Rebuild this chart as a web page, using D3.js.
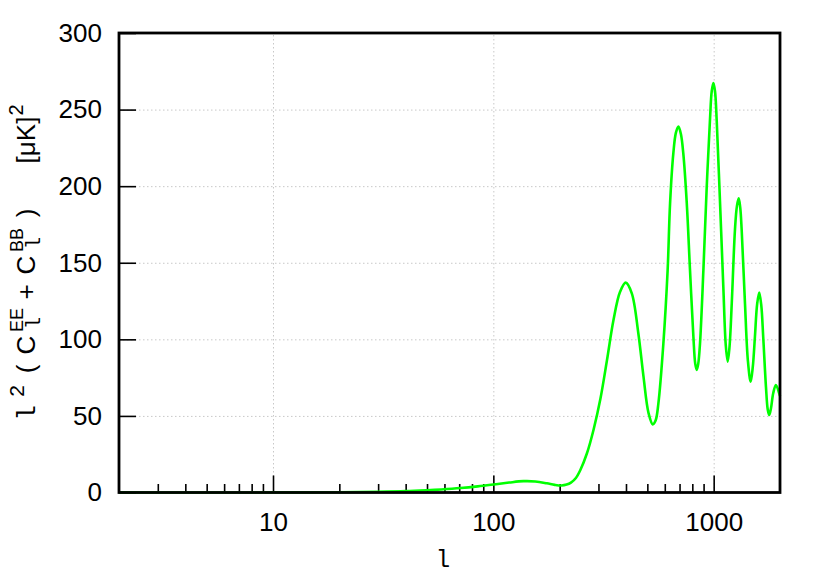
<!DOCTYPE html>
<html>
<head>
<meta charset="utf-8">
<script src="https://cdn.jsdelivr.net/npm/d3@7"></script>
<style>
  body { margin: 0; background: #fff; }
  .grid line { stroke: #c8c8c8; stroke-width: 1; stroke-dasharray: 1.5, 2.5; }
  .grid path { display: none; }
  .tick text { font-family: "Liberation Sans", Arial, sans-serif; font-size: 26px; fill: #000; }
</style>
</head>
<body>
<script>
'use-strict';

// multipole values l
let ell = [2, 4, 7, 10, 15, 20, 30, 40, 50, 58, 71, 85, 100, 118, 137, 155, 175, 190, 204, 215, 225, 237, 248,
  266, 285, 306, 328, 351, 376, 399, 425, 455, 480, 506, 529, 545, 561, 591, 618, 634, 656, 674, 692, 710,
  728, 755, 781, 809, 825, 838, 851, 867, 898, 930, 962, 980, 997, 1014, 1032, 1069, 1106, 1135, 1158, 1180,
  1208, 1249, 1275, 1299, 1320, 1340, 1387, 1430, 1472, 1505, 1539, 1575, 1610, 1645, 1678, 1727, 1760, 1787,
  1820, 1863, 1916, 1983, 2000];

// l^2 (C_l^EE + C_l^BB) in [uK]^2
let power = [0.05, 0.03, 0.03, 0.05, 0.1, 0.2, 0.5, 0.9, 1.5, 2.0, 2.9, 4.0, 5.2, 6.5, 7.4, 7.2, 6.0, 5.0, 4.6, 5.2, 6.5, 9.5, 14.5,
  25.6, 41, 61, 86.5, 112.6, 131, 137, 130, 104, 76, 52, 44.5, 47, 58, 97, 145, 188.8, 221.4, 235, 239, 234,
  221.4, 188.8, 145, 101.7, 84, 80, 84, 97.4, 145, 199.6, 243.2, 262, 267.3, 262, 243.2, 188.8, 134.4, 96, 85.4, 95,
  123.5, 171.4, 187, 192, 186, 171.4, 123.5, 86, 72.3, 82, 101.7, 123, 130.5, 122, 101.7, 69, 54, 50.6,
  55, 64.8, 70.2, 64.8, 63];

// tick values
let xMajorTicks = [10, 100, 1000];
let xMinorTicks = [3, 4, 5, 6, 7, 8, 9, 20, 30, 40, 50, 60, 70, 80, 90, 200, 300, 400, 500, 600, 700, 800, 900];
let yTicks = [0, 50, 100, 150, 200, 250, 300];

// margin of the chart
let margin = { top: 33, left: 119, bottom: 88.5, right: 50 };

// axes length
let width = 830 - margin.left - margin.right,
  height = 581 - margin.top - margin.bottom;

let svgContainer = d3.select("body")
  .append("svg")
  .attr("width", 830)
  .attr("height", 581);

let plot = svgContainer.append("g")
  .attr("transform", "translate(" + margin.left + "," + margin.top + ")");

drawPlot();

function drawPlot() {
  let scaleValues = drawAxes();
  drawLine(scaleValues);
  drawFrame();
  drawLabels();
}

// draws grid, ticks and tick labels
function drawAxes() {
  let xScale = d3.scaleLog()
    .domain([2, 2000])
    .range([0, width]);

  let yScale = d3.scaleLinear()
    .domain([0, 300])
    .range([height, 0]);

  // vertical gridlines
  plot.append("g")
    .attr("class", "grid")
    .attr("transform", "translate(0," + height + ")")
    .call(d3.axisBottom(xScale).tickValues(xMajorTicks).tickSize(-height).tickFormat(""));

  // horizontal gridlines
  plot.append("g")
    .attr("class", "grid")
    .call(d3.axisLeft(yScale).tickValues(yTicks.slice(1, -1)).tickSize(-width).tickFormat(""));

  // x axis, major ticks pointing inwards
  let xAxis = plot.append("g")
    .attr("transform", "translate(0," + height + ")")
    .call(d3.axisBottom(xScale)
      .tickValues(xMajorTicks)
      .tickSize(-17)
      .tickPadding(20)
      .tickFormat(d3.format("d")));

  // x axis minor ticks
  let xMinor = plot.append("g")
    .attr("transform", "translate(0," + height + ")")
    .call(d3.axisBottom(xScale)
      .tickValues(xMinorTicks)
      .tickSize(-8.5)
      .tickFormat(""));

  // y axis
  let yAxis = plot.append("g")
    .call(d3.axisLeft(yScale)
      .tickValues(yTicks)
      .tickSize(-17)
      .tickPadding(17));

  [xAxis, xMinor, yAxis].forEach(g => {
    g.select(".domain").remove();
    g.selectAll(".tick line").attr("stroke", "#000").attr("stroke-width", 1.6);
  });

  return { xScale: xScale, yScale: yScale };
}

// draws the spectrum curve
function drawLine(scaleValues) {
  let x = scaleValues.xScale;
  let y = scaleValues.yScale;

  let line = d3.line()
    .x((d, i) => x(ell[i]))
    .y((d) => y(d))
    .curve(d3.curveCatmullRom.alpha(0.5));

  plot.append("path")
    .datum(power)
    .attr("fill", "none")
    .attr("stroke", "#00ff00")
    .attr("stroke-width", 2.6)
    .attr("stroke-linejoin", "round")
    .attr("d", line);
}

// black border round the plot
function drawFrame() {
  plot.append("rect")
    .attr("x", 0)
    .attr("y", 0)
    .attr("width", width)
    .attr("height", height)
    .attr("fill", "none")
    .attr("stroke", "#000")
    .attr("stroke-width", 2.8);
}

// x and y axis labels
function drawLabels() {
  svgContainer.append("text")
    .attr("x", 443)
    .attr("y", 567)
    .attr("text-anchor", "middle")
    .style("font-family", "'Liberation Mono', monospace")
    .style("font-size", "24px")
    .text("l");

  // y label is built piece by piece, positions are along the rotated axis
  let yLabel = svgContainer.append("text")
    .attr("transform", "translate(35,423) rotate(-90)")
    .attr("text-anchor", "middle")
    .style("font-family", "'Liberation Sans', Arial, sans-serif")
    .style("font-size", "26px");

  let pieces = [
    { t: "l", x: 10, dy: 0, size: 26, mono: true },
    { t: "2", x: 32, dy: -11, size: 21 },
    { t: "(", x: 54, dy: 0, size: 26 },
    { t: "C", x: 78, dy: 0, size: 26 },
    { t: "l", x: 100, dy: 5, size: 20, mono: true },
    { t: "EE", x: 103, dy: -12, size: 18 },
    { t: "+", x: 131, dy: 0, size: 26 },
    { t: "C", x: 158, dy: 0, size: 26 },
    { t: "l", x: 180, dy: 5, size: 20, mono: true },
    { t: "BB", x: 183, dy: -12, size: 18 },
    { t: ")", x: 210, dy: 0, size: 26 },
    { t: "[\u03bcK]", x: 283, dy: 0, size: 26 },
    { t: "2", x: 313, dy: -12, size: 20 }
  ];

  pieces.forEach(p => {
    yLabel.append("tspan")
      .attr("x", p.x)
      .attr("y", p.dy)
      .style("font-size", p.size + "px")
      .style("font-family", p.mono ? "'Liberation Mono', monospace" : null)
      .text(p.t);
  });
}
</script>
</body>
</html>
